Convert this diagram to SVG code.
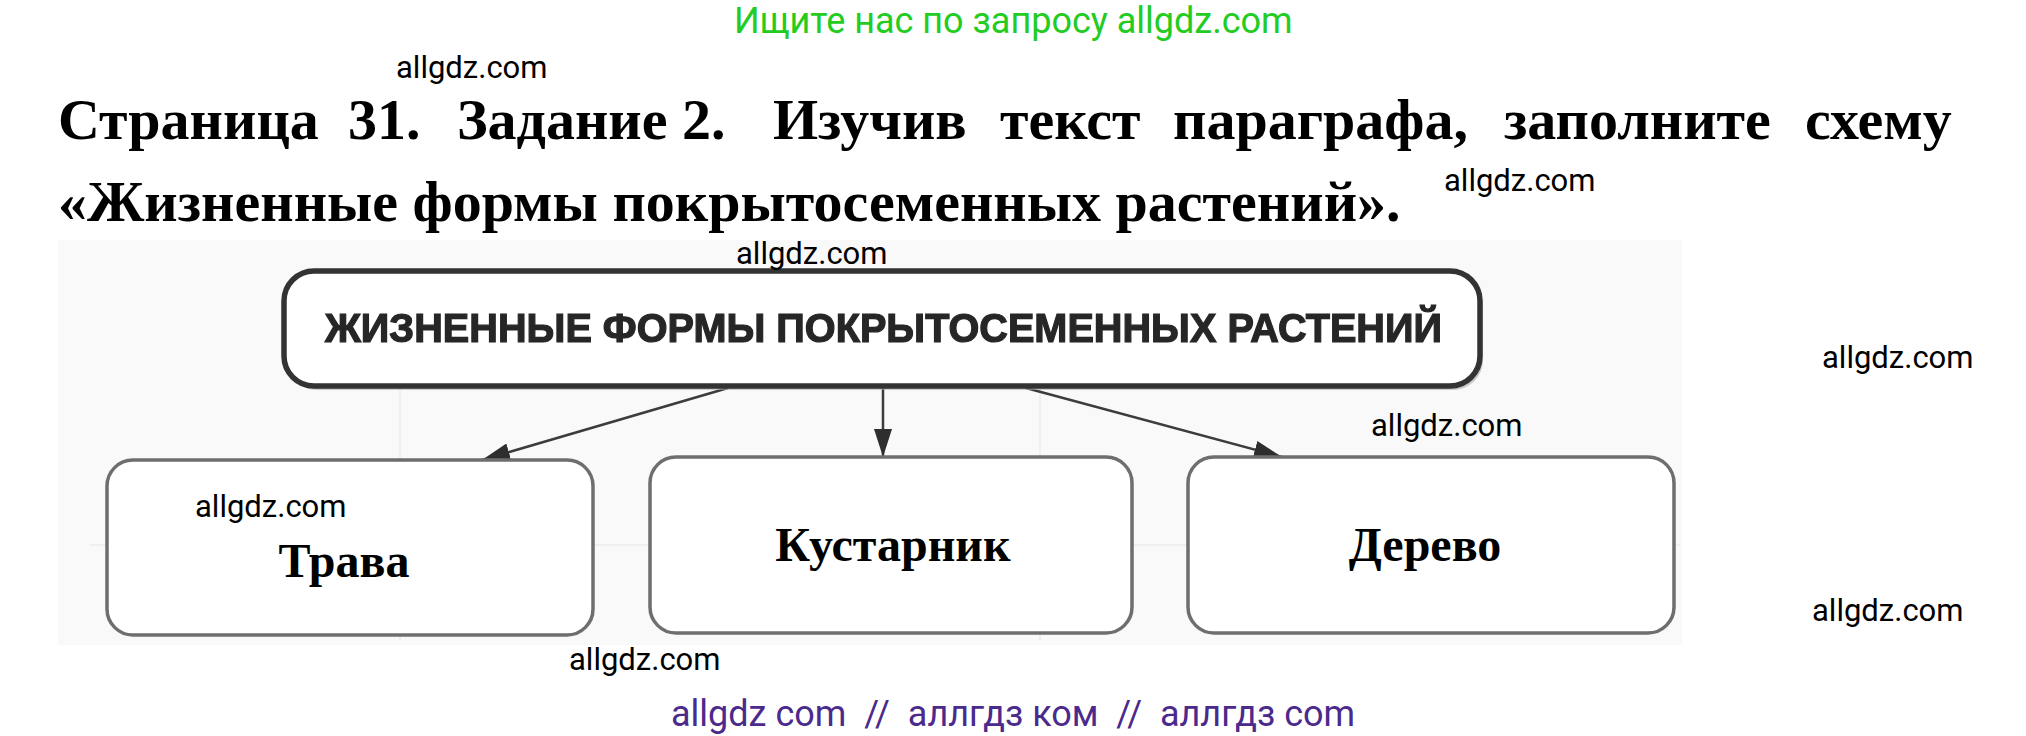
<svg xmlns="http://www.w3.org/2000/svg" width="2026" height="736" viewBox="0 0 2026 736">
<defs>
<style>
.wm{font-family:Roboto,"Liberation Sans",sans-serif;font-size:31px;fill:#000}
.title{font-family:"Liberation Serif","Times New Roman",serif;font-weight:bold;font-size:58px;fill:#000}
.lbl{font-family:"Liberation Serif","Times New Roman",serif;font-weight:bold;font-size:48px;fill:#000;text-anchor:middle}
.box{fill:#fff;stroke:#6e6e6e;stroke-width:3.5}
.conn{stroke:#3c3c3c;stroke-width:2.5;fill:none}
</style>
<marker id="ah" viewBox="0 0 28 18" refX="28" refY="9" markerWidth="28" markerHeight="18" markerUnits="userSpaceOnUse" orient="auto">
<path d="M0,0 L28,9 L0,18 Z" fill="#2e2e2e"/>
</marker>
<filter id="soft" x="-5%" y="-20%" width="110%" height="140%"><feGaussianBlur stdDeviation="0.7"/></filter>
</defs>
<rect width="2026" height="736" fill="#fff"/>
<g id="scan-bg">
<rect x="58" y="240" width="1624" height="405" fill="#f9f9f9"/>
<line x1="400" y1="330" x2="400" y2="640" stroke="#efefef" stroke-width="2"/>
<line x1="1040" y1="330" x2="1040" y2="640" stroke="#efefef" stroke-width="2"/>
<line x1="90" y1="545" x2="1680" y2="545" stroke="#efefef" stroke-width="2"/>
</g>
<text class="wm" x="734" y="33" style="fill:#22cc22;font-size:36px">Ищите нас по запросу allgdz.com</text>
<text class="title" y="139"><tspan x="58">Страница</tspan><tspan x="348">31.</tspan><tspan x="457">Задание</tspan><tspan x="682">2.</tspan><tspan x="773">Изучив</tspan><tspan x="1000">текст</tspan><tspan x="1173">параграфа,</tspan><tspan x="1504">заполните</tspan><tspan x="1805">схему</tspan></text>
<text class="title" x="58" y="221">«Жизненные формы покрытосеменных растений».</text>
<g id="connectors">
<line class="conn" x1="728" y1="388" x2="482" y2="460" marker-end="url(#ah)"/>
<line class="conn" x1="883" y1="388" x2="883" y2="457" marker-end="url(#ah)"/>
<line class="conn" x1="1026" y1="388" x2="1282" y2="457" marker-end="url(#ah)"/>
</g>
<g id="root">
<rect x="287" y="275" width="1196" height="115" rx="30" fill="#aaa" opacity="0.6"/>
<rect x="284" y="271" width="1196" height="115" rx="30" fill="#fff" stroke="#333" stroke-width="5.5"/>
<text x="325" y="342" textLength="1117" lengthAdjust="spacingAndGlyphs" filter="url(#soft)" style="font-family:'Liberation Sans',Arial,sans-serif;font-weight:bold;font-size:40px;fill:#262626;stroke:#262626;stroke-width:1.2">ЖИЗНЕННЫЕ ФОРМЫ ПОКРЫТОСЕМЕННЫХ РАСТЕНИЙ</text>
</g>
<g id="grass">
<rect class="box" x="107" y="460" width="486" height="175" rx="26"/>
<text class="lbl" x="344" y="577">Трава</text>
</g>
<g id="shrub">
<rect class="box" x="650" y="457" width="482" height="176" rx="26"/>
<text class="lbl" x="893" y="561">Кустарник</text>
</g>
<g id="tree">
<rect class="box" x="1188" y="457" width="486" height="176" rx="26"/>
<text class="lbl" x="1425" y="561">Дерево</text>
</g>
<g id="watermarks">
<text class="wm" x="396" y="78">allgdz.com</text>
<text class="wm" x="1444" y="191">allgdz.com</text>
<text class="wm" x="736" y="264">allgdz.com</text>
<text class="wm" x="1822" y="368">allgdz.com</text>
<text class="wm" x="1371" y="436">allgdz.com</text>
<text class="wm" x="195" y="517">allgdz.com</text>
<text class="wm" x="1812" y="621">allgdz.com</text>
<text class="wm" x="569" y="670">allgdz.com</text>
</g>
<text class="wm" x="671" y="726" style="fill:#4a2a8c;font-size:36px" xml:space="preserve">allgdz com  //  аллгдз ком  //  аллгдз com</text>
</svg>
